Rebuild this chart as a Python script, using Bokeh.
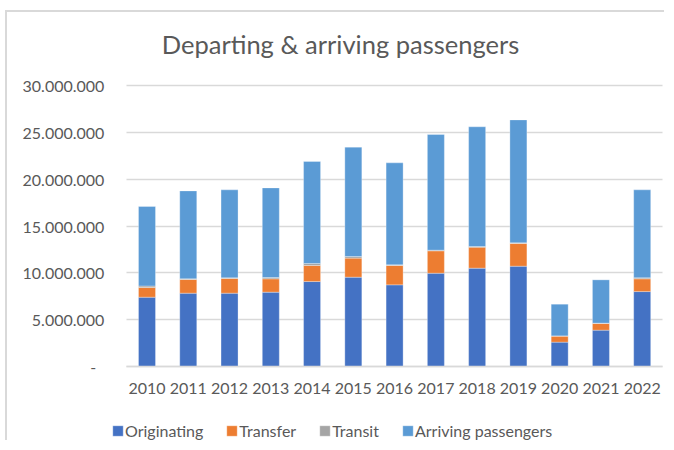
from bokeh.plotting import figure
from bokeh.models import Label, Legend, LegendItem, FixedTicker, CustomJSTickFormatter, Range1d
from bokeh.embed import file_html
from bokeh.resources import INLINE

years = ["2010", "2011", "2012", "2013", "2014", "2015", "2016",
         "2017", "2018", "2019", "2020", "2021", "2022"]
originating = [7400000, 7830000, 7830000, 7940000, 9070000, 9540000, 8720000,
               9960000, 10500000, 10710000, 2600000, 3880000, 8000000]
transfer = [1030000, 1460000, 1570000, 1420000, 1710000, 2030000, 2060000,
            2390000, 2240000, 2420000, 640000, 710000, 1360000]
transit = [170000, 70000, 70000, 140000, 220000, 170000, 70000,
           70000, 70000, 70000, 30000, 40000, 110000]
arriving = [8480000, 9390000, 9390000, 9570000, 10890000, 11680000, 10890000,
            12350000, 12780000, 13130000, 3380000, 4620000, 9390000]
series = ["Originating", "Transfer", "Transit", "Arriving passengers"]
y_ticks = [0, 5000000, 10000000, 15000000, 20000000, 25000000, 30000000]
title_text = "Departing & arriving passengers"

colors = ["#4472C4", "#ED7D31", "#A5A5A5", "#5B9BD5"]
FONT = "Lato"
TXT = "#595959"
GRID = "#D9D9D9"

n = len(years)
xpos = list(range(n))
data = {"x": xpos, "Originating": originating, "Transfer": transfer,
        "Transit": transit, "Arriving passengers": arriving}

# canvas occupies page x 7..666, y 12..442 (frame = whole canvas)
W, H = 659, 430
x_px, x0_page, canvas_left = 41.267, 146.5, 7
y_px, y0_page, canvas_top = 281 / 30000000, 366, 12
x_start = (canvas_left - x0_page) / x_px
x_end = (canvas_left + W - x0_page) / x_px
y_end = (y0_page - canvas_top) / y_px
y_start = -(canvas_top + H - y0_page) / y_px

p = figure(x_range=Range1d(x_start, x_end), y_range=Range1d(y_start, y_end),
           width=W, height=H, output_backend="svg", toolbar_location=None,
           min_border_left=0, min_border_right=0, min_border_top=0,
           min_border_bottom=0)
p.styles = {"border-left": "2px solid " + GRID, "border-top": "2px solid " + GRID,
            "margin-left": "5px", "margin-top": "10px"}
p.outline_line_color = None
p.background_fill_color = "white"
p.border_fill_color = "white"

renderers = p.vbar_stack(series, x="x", width=0.412, source=data,
                         color=colors, line_color="white", line_width=0.6,
                         line_alpha=0.5)

lo, hi = -0.5, n - 0.5
p.xgrid.grid_line_color = None
g = p.ygrid[0]
g.grid_line_color = GRID
g.grid_line_width = 1.5
g.ticker = FixedTicker(ticks=y_ticks)
if "cross_bounds" in g.properties():
    g.cross_bounds = (lo, hi)
else:
    g.grid_line_color = None
    p.segment(x0=[lo] * len(y_ticks), x1=[hi] * len(y_ticks), y0=y_ticks, y1=y_ticks,
              line_color=GRID, line_width=1.5, level="underlay")

p.yaxis.ticker = FixedTicker(ticks=y_ticks)
p.yaxis.formatter = CustomJSTickFormatter(code="""
if (tick == 0) return "-\u00a0\u00a0";
return Math.round(tick).toString().replace(/\\B(?=(\\d{3})+(?!\\d))/g, ".");
""")
p.yaxis.fixed_location = lo
p.yaxis.axis_line_color = None
p.yaxis.major_tick_line_color = None
p.yaxis.minor_tick_line_color = None
p.yaxis.major_label_standoff = 16

p.xaxis.fixed_location = 0
p.xaxis.bounds = (lo, hi)
p.xaxis.ticker = FixedTicker(ticks=xpos)
p.xaxis.major_label_overrides = {i: y for i, y in zip(xpos, years)}
p.xaxis.axis_line_color = GRID
p.xaxis.axis_line_width = 1.5
p.xaxis.major_tick_line_color = None
p.xaxis.minor_tick_line_color = None
p.xaxis.major_label_standoff = 10
for ax in (p.xaxis[0], p.yaxis[0]):
    ax.major_label_text_font = FONT
    ax.major_label_text_font_size = "16px"
    ax.major_label_text_color = TXT

title = Label(x=333, y=399, x_units="screen", y_units="screen", text=title_text,
              text_font=FONT, text_font_size="25.5px", text_color=TXT,
              text_align="center", text_baseline="middle")
p.add_layout(title)

legend = Legend(items=[LegendItem(label=s, renderers=[r]) for s, r in zip(series, renderers)],
                orientation="horizontal", location=(104, 2),
                glyph_width=13, glyph_height=13, label_standoff=1, spacing=22,
                padding=0, margin=0, border_line_color=None, background_fill_alpha=0,
                label_text_font=FONT, label_text_font_size="16px",
                label_text_color=TXT, label_height=20)
p.add_layout(legend, "center")

open("out.html", "w").write(file_html(p, INLINE))
